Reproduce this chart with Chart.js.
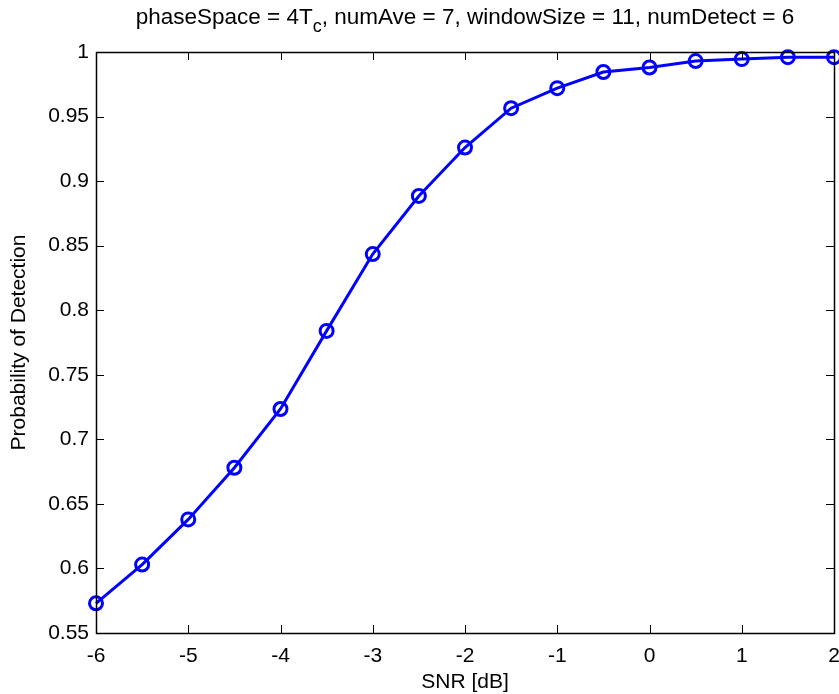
<!DOCTYPE html>
<html>
<head>
<meta charset="utf-8">
<script src="https://cdn.jsdelivr.net/npm/chart.js@4.4.1/dist/chart.umd.min.js"></script>
<style>
  html, body { margin: 0; padding: 0; background: #ffffff; }
  #wrap { width: 839px; height: 694px; position: relative; }
</style>
</head>
<body>
<div id="wrap"><canvas id="c" width="839" height="694"></canvas></div>
<script>
// ---- data ----
const snrDb = [-6, -5.5, -5, -4.5, -4, -3.5, -3, -2.5, -2, -1.5, -1, -0.5, 0, 0.5, 1, 1.5, 2];
const probDetection = [0.573, 0.603, 0.638, 0.678, 0.7235, 0.784, 0.8435, 0.8885, 0.926, 0.9565, 0.972, 0.9845, 0.988, 0.993, 0.9945, 0.996, 0.996];
const xTicks = [-6, -5, -4, -3, -2, -1, 0, 1, 2];
const xTickLabels = ['-6', '-5', '-4', '-3', '-2', '-1', '0', '1', '2'];
const yTicks = [0.55, 0.6, 0.65, 0.7, 0.75, 0.8, 0.85, 0.9, 0.95, 1];
const yTickLabels = ['0.55', '0.6', '0.65', '0.7', '0.75', '0.8', '0.85', '0.9', '0.95', '1'];
const titleMain = 'phaseSpace = 4T';
const titleSub = 'c';
const titleRest = ', numAve = 7, windowSize = 11, numDetect = 6';
const xTitle = 'SNR [dB]';
const yTitle = 'Probability of Detection';

const FONT = 'Arial, "Liberation Sans", Helvetica, sans-serif';

const boxPlugin = {
  id: 'matlabBox',
  afterDatasetsDraw(chart) {
    const { ctx, chartArea: a, scales } = chart;
    ctx.save();
    ctx.strokeStyle = '#000000';
    ctx.lineWidth = 1;
    const tl = 8;
    ctx.beginPath();
    xTicks.forEach(v => {
      const px = Math.round(scales.x.getPixelForValue(v)) + 0.5;
      ctx.moveTo(px, a.bottom); ctx.lineTo(px, a.bottom - tl);
      ctx.moveTo(px, a.top); ctx.lineTo(px, a.top + tl);
    });
    yTicks.forEach(v => {
      const py = Math.round(scales.y.getPixelForValue(v)) + 0.5;
      ctx.moveTo(a.left, py); ctx.lineTo(a.left + tl, py);
      ctx.moveTo(a.right, py); ctx.lineTo(a.right - tl, py);
    });
    ctx.stroke();
    ctx.lineWidth = 1.5;
    ctx.strokeRect(Math.round(a.left) + 0.5, Math.round(a.top) + 0.5,
      Math.round(a.right - a.left), Math.round(a.bottom - a.top));
    ctx.restore();
  },
  afterDraw(chart) {
    const { ctx, chartArea: a } = chart;
    ctx.save();
    ctx.fillStyle = '#000000';
    ctx.textBaseline = 'alphabetic';
    const mainFont = '22.5px ' + FONT;
    const subFont = '18px ' + FONT;
    ctx.font = mainFont;
    const w1 = ctx.measureText(titleMain).width;
    const w3 = ctx.measureText(titleRest).width;
    ctx.font = subFont;
    const w2 = ctx.measureText(titleSub).width;
    const total = w1 + w2 + w3;
    let x = (a.left + a.right) / 2 - total / 2;
    const base = 24;
    ctx.textAlign = 'left';
    ctx.font = mainFont;
    ctx.fillText(titleMain, x, base);
    x += w1;
    ctx.font = subFont;
    ctx.fillText(titleSub, x, base + 8);
    x += w2;
    ctx.font = mainFont;
    ctx.fillText(titleRest, x, base);
    ctx.restore();
  }
};

new Chart(document.getElementById('c'), {
  type: 'line',
  data: {
    labels: snrDb,
    datasets: [{
      data: snrDb.map((x, i) => ({ x: x, y: probDetection[i] })),
      borderColor: '#0000ff',
      backgroundColor: 'rgba(0,0,0,0)',
      borderWidth: 3,
      pointRadius: 6.5,
      pointHoverRadius: 6.5,
      pointBorderWidth: 3,
      pointBorderColor: '#0000ff',
      pointBackgroundColor: 'rgba(0,0,0,0)',
      tension: 0,
      clip: false
    }]
  },
  options: {
    responsive: false,
    animation: false,
    events: [],
    layout: { autoPadding: false, padding: { top: 52, right: 5, left: 0, bottom: 0 } },
    plugins: { legend: { display: false }, tooltip: { enabled: false }, title: { display: false } },
    scales: {
      x: {
        type: 'linear',
        min: -6, max: 2,
        afterBuildTicks(s) { s.ticks = xTicks.map(v => ({ value: v })); },
        afterFit(s) { s.height = 61; s.paddingLeft = 0; s.paddingRight = 0; },
        grid: { display: false, drawTicks: false },
        border: { display: false },
        ticks: {
          padding: 11,
          color: '#000000',
          font: { family: FONT, size: 21 },
          maxRotation: 0,
          autoSkip: false,
          callback(v, i) { return xTickLabels[i]; }
        },
        title: {
          display: true, text: xTitle, color: '#000000',
          font: { family: FONT, size: 21, lineHeight: 1 },
          padding: { top: 0, bottom: 1 }
        }
      },
      y: {
        type: 'linear',
        min: 0.55, max: 1,
        afterBuildTicks(s) { s.ticks = yTicks.map(v => ({ value: v })); },
        afterFit(s) { s.width = 96; s.paddingTop = 0; s.paddingBottom = 0; },
        grid: { display: false, drawTicks: false },
        border: { display: false },
        ticks: {
          padding: 7,
          color: '#000000',
          font: { family: FONT, size: 21 },
          autoSkip: false,
          callback(v, i) { return yTickLabels[i]; }
        },
        title: {
          display: true, text: yTitle, color: '#000000',
          font: { family: FONT, size: 21, lineHeight: 1 },
          padding: { top: 9, bottom: 0 }
        }
      }
    }
  },
  plugins: [boxPlugin]
});
</script>
</body>
</html>
